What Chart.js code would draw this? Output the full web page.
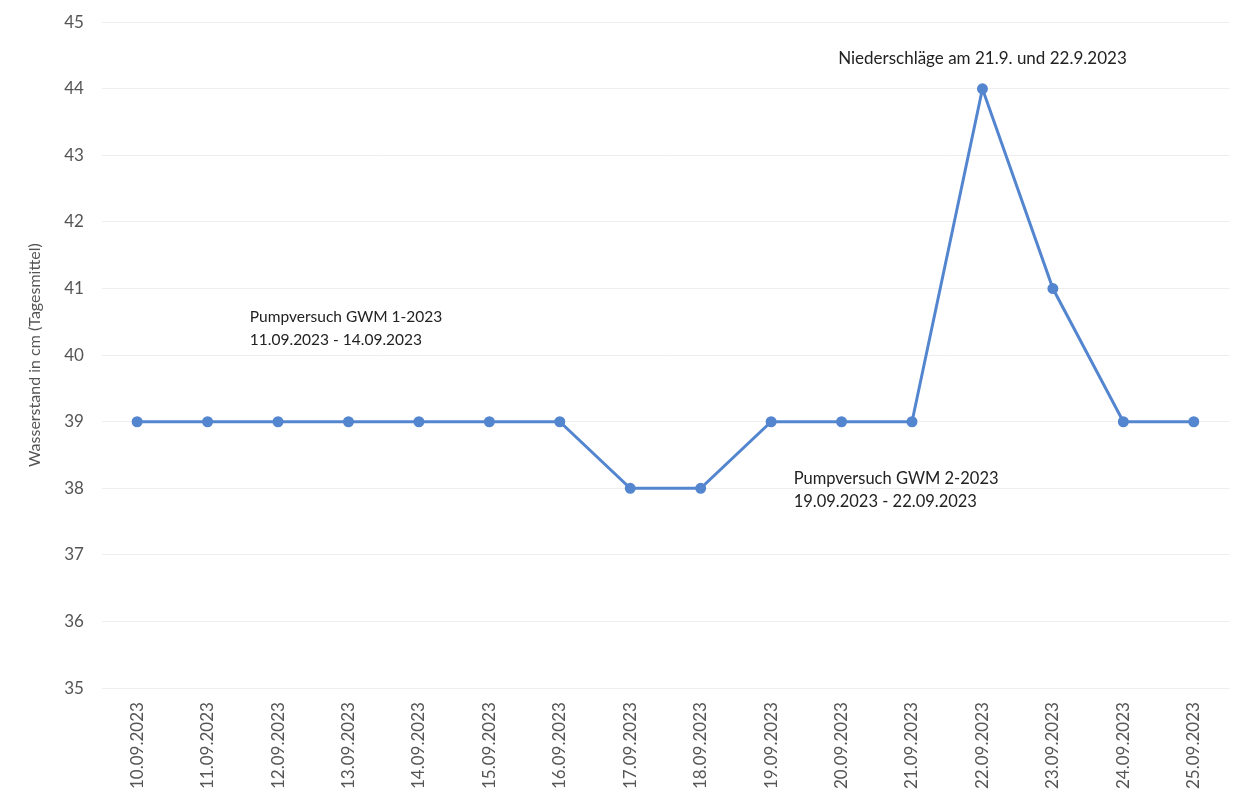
<!DOCTYPE html>
<html>
<head>
<meta charset="utf-8">
<script src="https://cdn.jsdelivr.net/npm/chart.js@4/dist/chart.umd.min.js"></script>
<style>
  body { margin: 0; background: #fff; }
  #wrap { width: 1252px; height: 805px; overflow: hidden; }
  #pegelChart { display: block; margin-top: -6px; }
</style>
</head>
<body>
<div id="wrap"><canvas id="pegelChart" width="1252" height="811"></canvas></div>
<script>
const dates = [
  "10.09.2023", "11.09.2023", "12.09.2023", "13.09.2023",
  "14.09.2023", "15.09.2023", "16.09.2023", "17.09.2023",
  "18.09.2023", "19.09.2023", "20.09.2023", "21.09.2023",
  "22.09.2023", "23.09.2023", "24.09.2023", "25.09.2023"
];
const wasserstand = [39, 39, 39, 39, 39, 39, 39, 38, 38, 39, 39, 39, 44, 41, 39, 39];

// text notes placed in data coordinates (x = category index, y = cm)
const notes = [
  { x: 1.6, y: 40.57, size: 15.5, align: "left", lines: ["Pumpversuch GWM 1-2023", "11.09.2023 - 14.09.2023"] },
  { x: 9.32, y: 38.14, size: 16.5, align: "left", lines: ["Pumpversuch GWM 2-2023", "19.09.2023 - 22.09.2023"] },
  { x: 12.0, y: 44.46, size: 17, align: "center", lines: ["Niederschläge am 21.9. und 22.9.2023"] }
];

const notesPlugin = {
  id: "notes",
  afterDatasetsDraw(chart) {
    const { ctx, scales } = chart;
    ctx.save();
    ctx.fillStyle = "#222";
    ctx.textBaseline = "middle";
    notes.forEach((n) => {
      const px = scales.x.getPixelForValue(n.x);
      const py = scales.y.getPixelForValue(n.y);
      ctx.font = n.size + "px Lato, 'Open Sans', sans-serif";
      ctx.textAlign = n.align;
      n.lines.forEach((line, i) => ctx.fillText(line, px, py + i * 23));
    });
    ctx.restore();
  }
};

new Chart(document.getElementById("pegelChart"), {
  type: "line",
  data: {
    labels: dates,
    datasets: [{
      data: wasserstand,
      borderColor: "#5486cf",
      backgroundColor: "#5486cf",
      borderWidth: 3,
      pointRadius: 4,
      pointHoverRadius: 4,
      tension: 0
    }]
  },
  options: {
    responsive: false,
    animation: false,
    layout: { padding: { top: 3, right: 23, bottom: 10, left: 23 } },
    plugins: {
      legend: { display: false },
      tooltip: { enabled: false }
    },
    scales: {
      x: {
        offset: true,
        grid: { display: false },
        border: { display: false },
        ticks: {
          color: "#555",
          font: { family: "Lato, 'Open Sans', sans-serif", size: 17 },
          minRotation: 90,
          maxRotation: 90,
          autoSkip: false,
          padding: 6
        }
      },
      y: {
        min: 35,
        max: 45,
        ticks: {
          stepSize: 1,
          color: "#555",
          font: { family: "Lato, 'Open Sans', sans-serif", size: 17 },
          padding: 18
        },
        grid: { color: "#eeeeee", drawTicks: false },
        border: { display: false },
        title: {
          display: true,
          text: "Wasserstand in cm (Tagesmittel)",
          color: "#555",
          font: { family: "Lato, 'Open Sans', sans-serif", size: 16 },
          padding: 2
        }
      }
    }
  },
  plugins: [notesPlugin]
});
</script>
</body>
</html>
